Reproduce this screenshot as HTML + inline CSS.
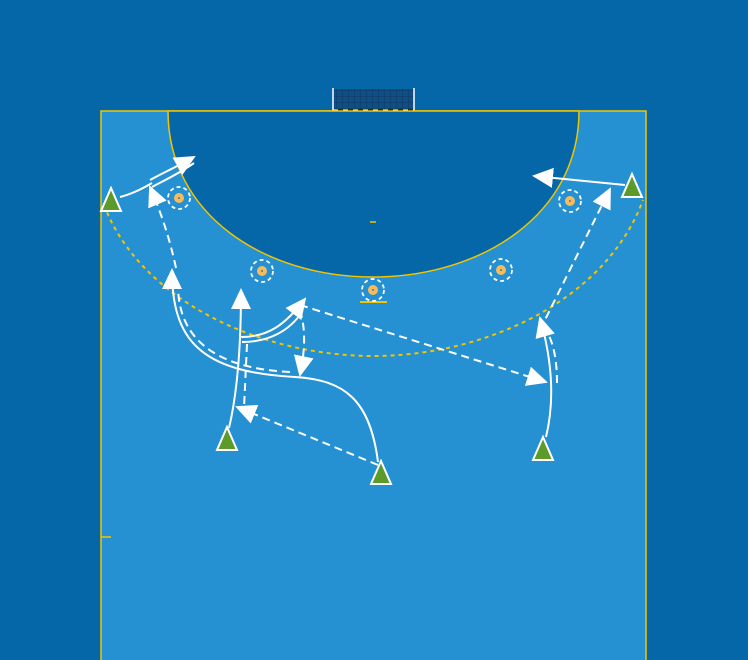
<!DOCTYPE html>
<html><head><meta charset="utf-8"><style>html,body{margin:0;padding:0;background:#0566a8;}svg{display:block}</style></head>
<body>
<svg width="748" height="660" viewBox="0 0 748 660" xmlns="http://www.w3.org/2000/svg">
<defs>
<marker id="a" markerUnits="userSpaceOnUse" markerWidth="24" markerHeight="24" refX="19" refY="11" orient="auto">
<polygon points="0,1 21,11 0,21" fill="#fff"/>
</marker>
<pattern id="net" width="6" height="6" patternUnits="userSpaceOnUse"><path d="M0 0H6M0 0V6" stroke="#13375c" stroke-width="1" fill="none"/></pattern>
</defs>
<rect width="748" height="660" fill="#0566a8"/>
<!-- goal -->
<rect x="333" y="89" width="81" height="21" fill="#0d4f86"/>
<rect x="333" y="89" width="81" height="21" fill="url(#net)"/>
<line x1="333" y1="88" x2="333" y2="111" stroke="#fff" stroke-width="1.5"/>
<line x1="414" y1="88" x2="414" y2="111" stroke="#fff" stroke-width="1.5"/>
<!-- court -->
<rect x="101" y="111" width="545" height="560" fill="#2590d2" stroke="#f2c500" stroke-width="1.5"/>
<line x1="333" y1="111" x2="414" y2="111" stroke="#111" stroke-width="3"/>
<line x1="333" y1="111" x2="414" y2="111" stroke="#fff" stroke-width="3" stroke-dasharray="5 5"/>
<path d="M168,111 C168,215 265,277 373,277 C481,277 579,215 579,111 Z" fill="#0566a8" stroke="#f2c500" stroke-width="1.5"/>
<path d="M104,205 C140,300 260,356 373,356 C486,356 606,300 643,200" fill="none" stroke="#f2c500" stroke-width="2" stroke-dasharray="4 4"/>
<line x1="370" y1="222" x2="376" y2="222" stroke="#f2c500" stroke-width="1.5"/>
<line x1="101" y1="537" x2="111" y2="537" stroke="#f2c500" stroke-width="1.5"/>
<line x1="360" y1="302" x2="387" y2="302" stroke="#f2c500" stroke-width="2"/>
<!-- defenders -->
<g stroke="#fff" stroke-width="1.8" stroke-dasharray="4 3" fill="none">
<circle cx="179" cy="198" r="11"/><circle cx="262" cy="271" r="11"/><circle cx="373" cy="290" r="11"/><circle cx="501" cy="270" r="11"/><circle cx="570" cy="201" r="11"/>
</g>
<g fill="#f6bc5c"><circle cx="179" cy="198" r="5"/><circle cx="262" cy="271" r="5"/><circle cx="373" cy="290" r="5"/><circle cx="501" cy="270" r="5"/><circle cx="570" cy="201" r="5"/></g>
<g fill="#4a7aa0"><circle cx="179" cy="198" r="1"/><circle cx="262" cy="271" r="1"/><circle cx="373" cy="290" r="1"/><circle cx="501" cy="270" r="1"/><circle cx="570" cy="201" r="1"/></g>
<!-- arrows -->
<g fill="none" stroke="#fff" stroke-width="2">
<path d="M120,197 C132,194 142,189 152,183"/>
<path d="M150,180 C165,172 178,166 194,157" marker-end="url(#a)"/>
<path d="M152,187 C167,179 180,173 194,163"/>
<path d="M176,268 C170,240 162,215 150,187" stroke-dasharray="8 5" marker-end="url(#a)"/>
<path d="M378,462 C370,400 345,380 295,377 C200,372 172,340 172,270" marker-end="url(#a)"/>
<path d="M290,372 C210,368 178,335 178,285" stroke-dasharray="8 5"/>
<path d="M229,428 C238,390 241,340 241,290" marker-end="url(#a)"/>
<path d="M241,337 C268,337 285,325 305,299" marker-end="url(#a)"/>
<path d="M242,342 C270,342 290,330 302,312"/>
<path d="M300,310 C306,330 305,350 300,375" stroke-dasharray="8 5" marker-end="url(#a)"/>
<path d="M247,344 L244,408" stroke-dasharray="8 5"/>
<path d="M378,465 L237,407" stroke-dasharray="8 5" marker-end="url(#a)"/>
<path d="M300,305 L546,382" stroke-dasharray="8 5" marker-end="url(#a)"/>
<path d="M546,437 C555,400 552,360 540,318" marker-end="url(#a)"/>
<path d="M557,383 C557,365 555,345 546,330" stroke-dasharray="8 5"/>
<path d="M540,330 L610,189" stroke-dasharray="8 5" marker-end="url(#a)"/>
<path d="M625,185 L534,176" marker-end="url(#a)"/>
</g>
<!-- players -->
<g fill="#5c9a2a" stroke="#fff" stroke-width="2" stroke-linejoin="miter">
<polygon points="111,188 101,211 121,211"/>
<polygon points="227,427 217,450 237,450"/>
<polygon points="381,461 371,484 391,484"/>
<polygon points="543,437 533,460 553,460"/>
<polygon points="632,174 622,197 642,197"/>
</g>
</svg>
</body></html>
